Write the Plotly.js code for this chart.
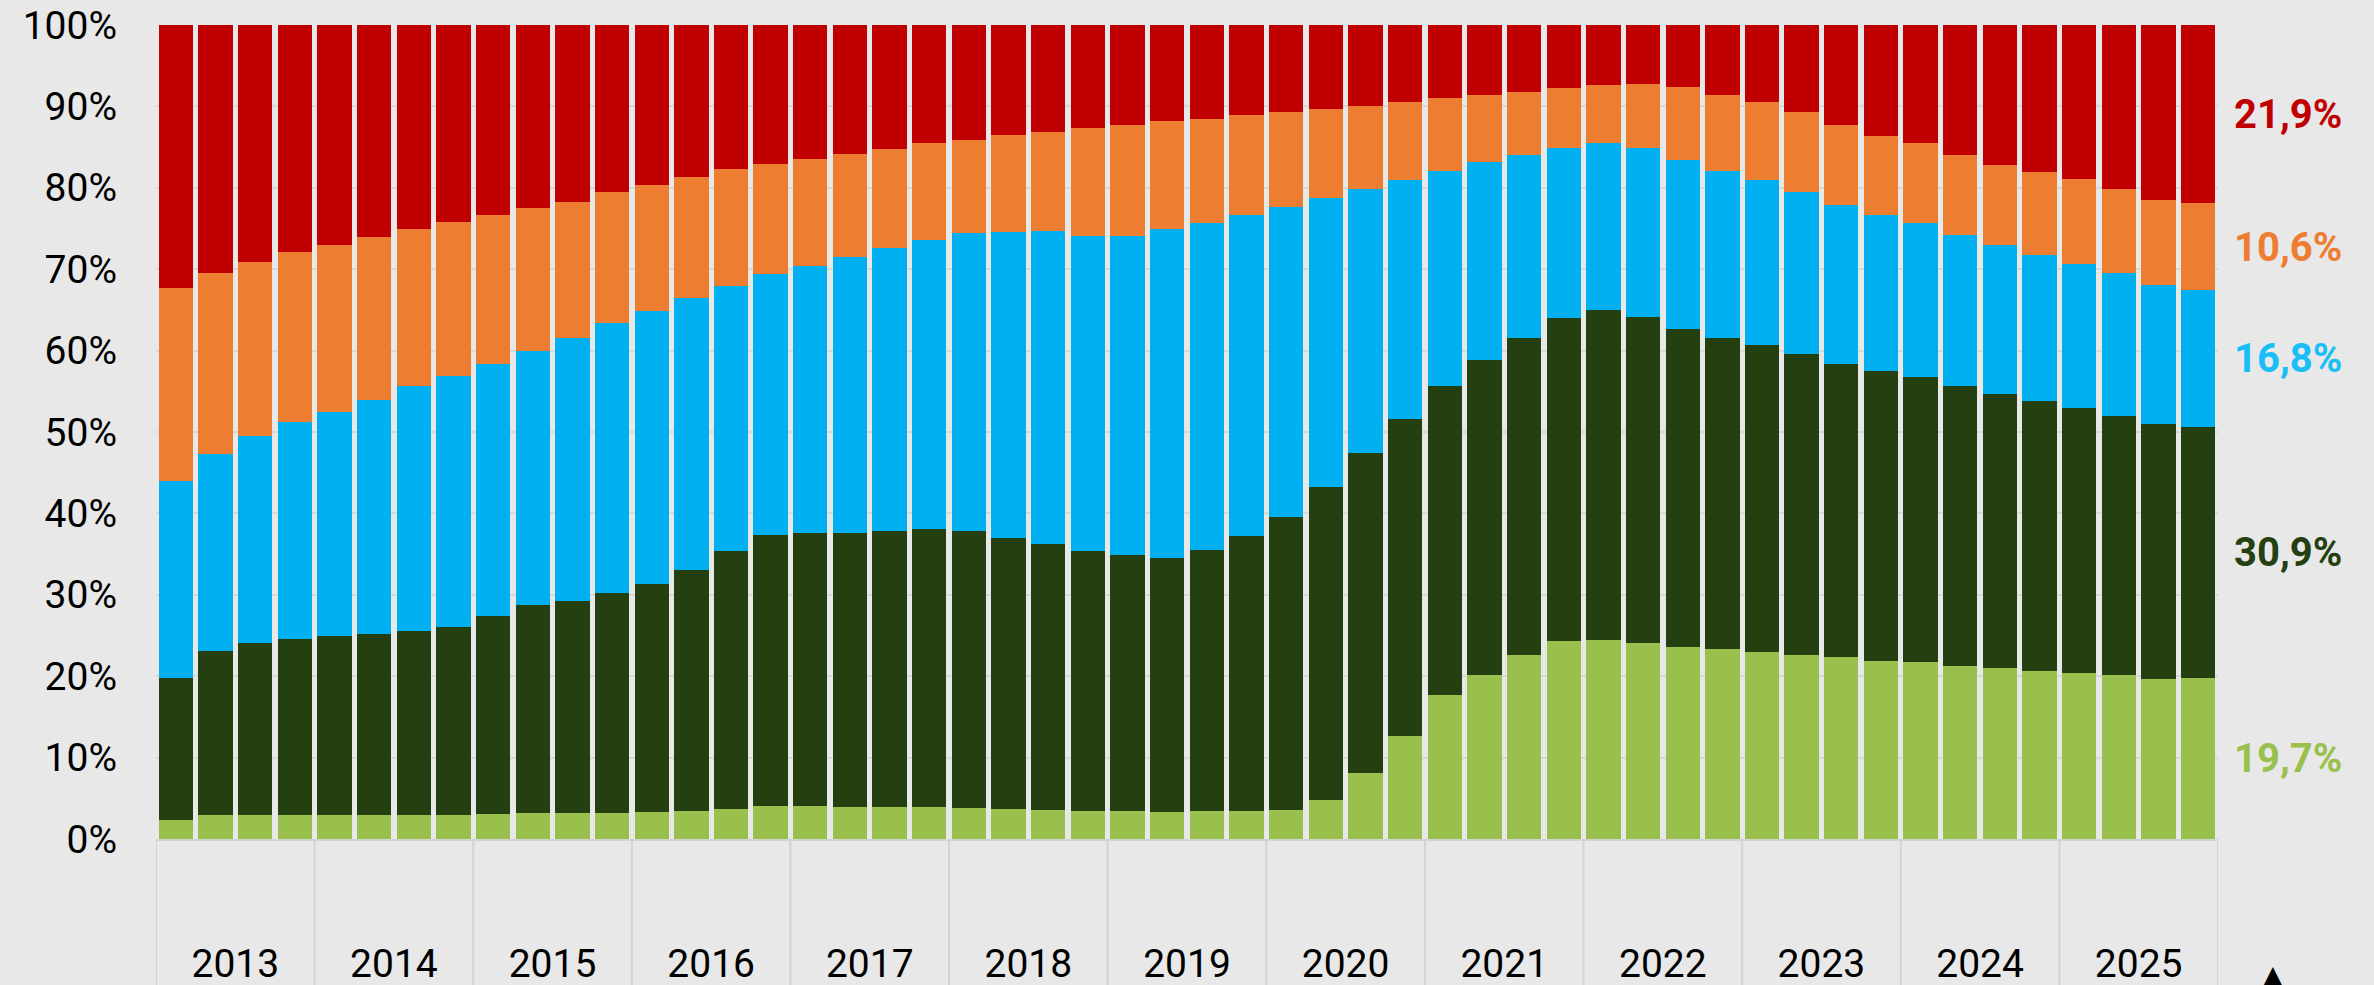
<!DOCTYPE html>
<html>
<head>
<meta charset="utf-8">
<script src="https://cdn.plot.ly/plotly-3.0.1.min.js"></script>
<style>
html,body{margin:0;padding:0;background:#e8e8e8;}
#chart{width:2374px;height:985px;}
</style>
</head>
<body>
<div id="chart"></div>
<script>
// ---- data ----
const years = [2013,2014,2015,2016,2017,2018,2019,2020,2021,2022,2023,2024,2025];
const quarters = ['T1','T2','T3','T4'];

const seriesNames = ['Série 1','Série 2','Série 3','Série 4','Série 5'];
const seriesColors = ['#99BF4D','#244010','#00B0F0','#ED7D31','#C00000'];
const labelColors  = ['#99BF4D','#244010','#19BEF7','#ED7D31','#C00000'];

const lightGreen = [2.3,2.9,3.0,3.0, 3.0,3.0,3.0,3.0, 3.1,3.2,3.2,3.2, 3.3,3.4,3.7,4.0,
  4.0,3.9,3.9,3.9, 3.8,3.7,3.6,3.5, 3.4,3.3,3.4,3.4, 3.6,4.8,8.1,12.7,
  17.7,20.2,22.6,24.3, 24.5,24.1,23.6,23.4, 23.0,22.6,22.3,21.9, 21.7,21.3,21.0,20.7,
  20.4,20.1,19.7,19.7];
const darkGreen = [17.5,20.2,21.1,21.6, 21.9,22.2,22.5,23.0, 24.3,25.5,26.1,27.0, 28.0,29.6,31.7,33.4,
  33.6,33.7,33.9,34.2, 34.0,33.3,32.7,31.9, 31.5,31.2,32.1,33.8, 35.9,38.5,39.3,38.9,
  37.9,38.6,39.0,39.7, 40.5,40.0,39.0,38.2, 37.7,37.0,36.1,35.6, 35.1,34.4,33.7,33.1,
  32.6,31.9,31.3,30.9];
const blue = [24.2,24.2,25.4,26.6, 27.5,28.7,30.1,30.9, 31.0,31.2,32.3,33.2, 33.6,33.5,32.5,32.0,
  32.8,33.9,34.8,35.5, 36.6,37.6,38.4,38.7, 39.2,40.4,40.2,39.5, 38.2,35.5,32.4,29.4,
  26.5,24.4,22.4,20.9, 20.5,20.8,20.8,20.5, 20.3,19.9,19.5,19.1, 18.9,18.5,18.3,17.9,
  17.7,17.5,17.0,16.8];
const orange = [23.7,22.2,21.4,20.9, 20.6,20.1,19.4,18.9, 18.2,17.6,16.7,16.1, 15.5,14.8,14.4,13.5,
  13.2,12.7,12.2,11.9, 11.5,11.9,12.2,13.2, 13.6,13.3,12.8,12.2, 11.6,10.9,10.3,9.5,
  8.9,8.2,7.8,7.4, 7.1,7.8,9.0,9.3, 9.5,9.8,9.8,9.8, 9.8,9.8,9.8,10.3,
  10.4,10.3,10.5,10.6];
const red = [32.3,30.5,29.1,27.9, 27.0,26.0,25.0,24.2, 23.4,22.5,21.7,20.5, 19.6,18.7,17.7,17.1,
  16.4,15.8,15.2,14.5, 14.1,13.5,13.1,12.7, 12.3,11.8,11.5,11.1, 10.7,10.3,9.9,9.5,
  9.0,8.6,8.2,7.7, 7.4,7.3,7.6,8.6, 9.5,10.7,12.3,13.6, 14.5,16.0,17.2,18.0,
  18.9,20.2,21.5,21.9];

const yTicks = [0,10,20,30,40,50,60,70,80,90,100];

// ---- build ----
const periods = [];
years.forEach(y => quarters.forEach(q => periods.push(y + ' ' + q)));
const xIdx = periods.map((p, i) => i);
const allSeries = [lightGreen, darkGreen, blue, orange, red];

const traces = allSeries.map((vals, k) => ({
  type: 'bar',
  name: seriesNames[k],
  x: xIdx,
  y: vals,
  customdata: periods,
  marker: {color: seriesColors[k], line: {width: 0}},
  hovertemplate: '%{customdata}: %{y:.1f}%<extra></extra>'
}));

const fontFam = 'Roboto, "Liberation Sans", Arial, sans-serif';

// right-hand labels for last period, placed at segment midpoints
const last = periods.length - 1;
let cum = 0;
const annotations = allSeries.map((vals, k) => {
  const v = vals[last];
  const mid = cum + v / 2;
  cum += v;
  return {
    xref: 'paper', x: 1, xanchor: 'left', xshift: 14,
    yref: 'y', y: mid, yanchor: 'middle',
    text: v.toFixed(1).replace('.', ',') + '%',
    showarrow: false,
    font: {family: fontFam, size: 40, color: labelColors[k], weight: 'bold'}
  };
});

// year separators below axis
const shapes = [];
for (let i = 0; i <= years.length; i++) {
  shapes.push({
    type: 'line', xref: 'x', yref: 'paper',
    x0: i * quarters.length - 0.5, x1: i * quarters.length - 0.5,
    y0: 0, y1: -0.2,
    line: {color: '#d3d3d3', width: 2}
  });
}

const layout = {
  width: 2374, height: 985,
  paper_bgcolor: '#e8e8e8',
  plot_bgcolor: '#e8e8e8',
  margin: {l: 156, r: 156, t: 25, b: 146, pad: 0},
  barmode: 'stack',
  barnorm: 'percent',
  bargap: 0.134,
  showlegend: false,
  font: {family: fontFam, color: '#000'},
  xaxis: {
    range: [-0.5, periods.length - 0.5],
    tickmode: 'array',
    tickvals: years.map((y, i) => i * quarters.length + (quarters.length - 1) / 2),
    ticktext: years.map(String),
    ticks: '',
    showgrid: false,
    zeroline: false,
    showline: true,
    linecolor: '#d3d3d3',
    linewidth: 2,
    tickfont: {size: 39, color: '#000'},
    ticklabelstandoff: 89
  },
  yaxis: {
    range: [0, 100],
    tickmode: 'array',
    tickvals: yTicks,
    ticktext: yTicks.map(t => t + '%'),
    ticks: '',
    showgrid: true,
    gridcolor: '#d8d8d8',
    gridwidth: 2,
    zeroline: false,
    showline: false,
    tickfont: {size: 39, color: '#000'},
    ticklabelstandoff: 38
  },
  shapes: shapes,
  annotations: annotations.concat([{
    xref: 'paper', yref: 'paper', x: 1.0267, y: -0.14, xanchor: 'center', yanchor: 'top',
    text: '▲', showarrow: false, font: {size: 34, color: '#000'}
  }])
};

Plotly.newPlot('chart', traces, layout, {displayModeBar: false, staticPlot: true});
</script>
</body>
</html>
